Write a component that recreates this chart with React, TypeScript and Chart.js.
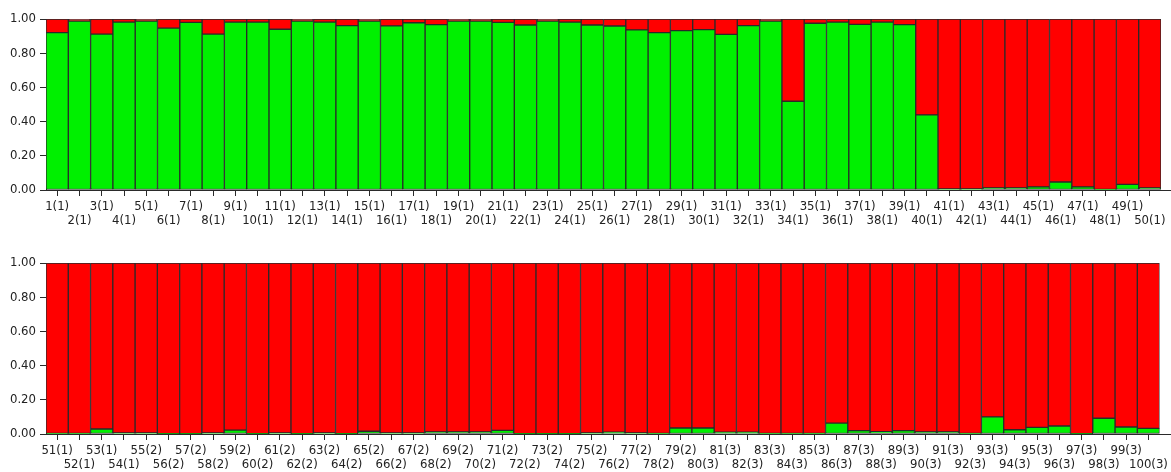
import React, { useEffect, useRef } from 'react';
import { Chart, registerables } from 'chart.js';

Chart.register(...registerables);

const topLabels = [
  '1(1)', '2(1)', '3(1)', '4(1)', '5(1)', '6(1)', '7(1)', '8(1)', '9(1)', '10(1)',
  '11(1)', '12(1)', '13(1)', '14(1)', '15(1)', '16(1)', '17(1)', '18(1)', '19(1)', '20(1)',
  '21(1)', '22(1)', '23(1)', '24(1)', '25(1)', '26(1)', '27(1)', '28(1)', '29(1)', '30(1)',
  '31(1)', '32(1)', '33(1)', '34(1)', '35(1)', '36(1)', '37(1)', '38(1)', '39(1)', '40(1)',
  '41(1)', '42(1)', '43(1)', '44(1)', '45(1)', '46(1)', '47(1)', '48(1)', '49(1)', '50(1)',
];

const topGreen = [
  0.920, 0.988, 0.912, 0.982, 0.988, 0.947, 0.980, 0.912, 0.982, 0.982,
  0.940, 0.988, 0.982, 0.961, 0.988, 0.960, 0.978, 0.967, 0.988, 0.988,
  0.980, 0.965, 0.988, 0.982, 0.965, 0.959, 0.936, 0.920, 0.932, 0.938,
  0.910, 0.961, 0.988, 0.519, 0.975, 0.982, 0.969, 0.982, 0.967, 0.439,
  0.006, 0.006, 0.012, 0.012, 0.018, 0.047, 0.018, 0.004, 0.033, 0.012,
];

const topRed = [
  0.080, 0.012, 0.088, 0.018, 0.012, 0.053, 0.020, 0.088, 0.018, 0.018,
  0.060, 0.012, 0.018, 0.039, 0.012, 0.040, 0.022, 0.033, 0.012, 0.012,
  0.020, 0.035, 0.012, 0.018, 0.035, 0.041, 0.064, 0.080, 0.068, 0.062,
  0.090, 0.039, 0.012, 0.481, 0.025, 0.018, 0.031, 0.018, 0.033, 0.561,
  0.994, 0.994, 0.988, 0.988, 0.982, 0.953, 0.982, 0.996, 0.967, 0.988,
];

const bottomLabels = [
  '51(1)', '52(1)', '53(1)', '54(1)', '55(2)', '56(2)', '57(2)', '58(2)', '59(2)', '60(2)',
  '61(2)', '62(2)', '63(2)', '64(2)', '65(2)', '66(2)', '67(2)', '68(2)', '69(2)', '70(2)',
  '71(2)', '72(2)', '73(2)', '74(2)', '75(2)', '76(2)', '77(2)', '78(2)', '79(2)', '80(3)',
  '81(3)', '82(3)', '83(3)', '84(3)', '85(3)', '86(3)', '87(3)', '88(3)', '89(3)', '90(3)',
  '91(3)', '92(3)', '93(3)', '94(3)', '95(3)', '96(3)', '97(3)', '98(3)', '99(3)', '100(3)',
];

const bottomGreen = [
  0.004, 0.004, 0.029, 0.006, 0.006, 0.002, 0.002, 0.006, 0.023, 0.002,
  0.006, 0.002, 0.006, 0.002, 0.016, 0.006, 0.006, 0.012, 0.012, 0.012,
  0.021, 0.002, 0.002, 0.002, 0.006, 0.010, 0.006, 0.004, 0.035, 0.035,
  0.010, 0.010, 0.004, 0.004, 0.004, 0.064, 0.020, 0.014, 0.020, 0.012,
  0.012, 0.004, 0.100, 0.025, 0.039, 0.047, 0.002, 0.092, 0.041, 0.033,
];

const bottomRed = [
  0.996, 0.996, 0.971, 0.994, 0.994, 0.998, 0.998, 0.994, 0.977, 0.998,
  0.994, 0.998, 0.994, 0.998, 0.984, 0.994, 0.994, 0.988, 0.988, 0.988,
  0.979, 0.998, 0.998, 0.998, 0.994, 0.990, 0.994, 0.996, 0.965, 0.965,
  0.990, 0.990, 0.996, 0.996, 0.996, 0.936, 0.980, 0.986, 0.980, 0.988,
  0.988, 0.996, 0.900, 0.975, 0.961, 0.953, 0.998, 0.908, 0.959, 0.967,
];

const GREEN = '#00f000';
const RED = '#ff0000';
const EDGE = '#2a2a2a';
const TEXT = '#222222';
const FONT = "'Liberation Sans Narrow', 'Arial Narrow', 'DejaVu Sans Condensed', sans-serif";

const axisExtend = {
  id: 'axisExtend',
  afterDraw(chart: any) {
    const { ctx, chartArea } = chart;
    ctx.save();
    ctx.strokeStyle = EDGE;
    ctx.lineWidth = 1;
    ctx.beginPath();
    ctx.moveTo(chartArea.right, Math.round(chartArea.bottom) + 0.5);
    ctx.lineTo(chart.width, Math.round(chartArea.bottom) + 0.5);
    ctx.stroke();
    ctx.restore();
  },
};

function makeConfig(labels: string[], green: number[], red: number[], padTop: number, xHeight: number) {
  const ds = (data: number[], color: string) => ({
    data,
    backgroundColor: color,
    borderColor: EDGE,
    borderWidth: 1,
    borderSkipped: false,
    barPercentage: 1,
    categoryPercentage: 1,
  });
  return {
    type: 'bar' as const,
    data: { labels, datasets: [ds(green, GREEN), ds(red, RED)] },
    plugins: [axisExtend],
    options: {
      animation: false,
      responsive: false,
      maintainAspectRatio: false,
      events: [],
      layout: { padding: { top: padTop, right: 10, left: 0, bottom: 0 } },
      plugins: { legend: { display: false }, tooltip: { enabled: false } },
      scales: {
        x: {
          stacked: true,
          grid: { offset: false, drawOnChartArea: false, tickLength: 6, color: EDGE },
          border: { color: EDGE },
          ticks: {
            autoSkip: false,
            maxRotation: 0,
            minRotation: 0,
            padding: 3,
            color: TEXT,
            font: { family: FONT, size: 13, lineHeight: 1.1 },
            callback: (_v: any, i: number) => (i % 2 === 0 ? [labels[i], ''] : ['', labels[i]]),
          },
          afterFit: (s: any) => { s.height = xHeight; },
        },
        y: {
          stacked: true,
          min: 0,
          max: 1,
          grid: { drawOnChartArea: false, tickLength: 6, color: EDGE },
          border: { color: EDGE },
          ticks: {
            stepSize: 0.2,
            padding: 4,
            color: TEXT,
            font: { family: FONT, size: 13 },
            callback: (v: any) => Number(v).toFixed(2),
          },
          afterFit: (s: any) => { s.width = 46; },
        },
      },
    },
  };
}

export default function App() {
  const topRef = useRef<HTMLCanvasElement>(null);
  const botRef = useRef<HTMLCanvasElement>(null);

  useEffect(() => {
    document.body.style.margin = '0';
    const c1 = new Chart(topRef.current as HTMLCanvasElement, makeConfig(topLabels, topGreen, topRed, 19, 46) as any);
    const c2 = new Chart(botRef.current as HTMLCanvasElement, makeConfig(bottomLabels, bottomGreen, bottomRed, 27, 38) as any);
    return () => {
      c1.destroy();
      c2.destroy();
    };
  }, []);

  return (
    <div style={{ width: 1171, height: 472, background: '#fff' }}>
      <canvas ref={topRef} width={1171} height={236} style={{ display: 'block' }} />
      <canvas ref={botRef} width={1171} height={236} style={{ display: 'block' }} />
    </div>
  );
}
